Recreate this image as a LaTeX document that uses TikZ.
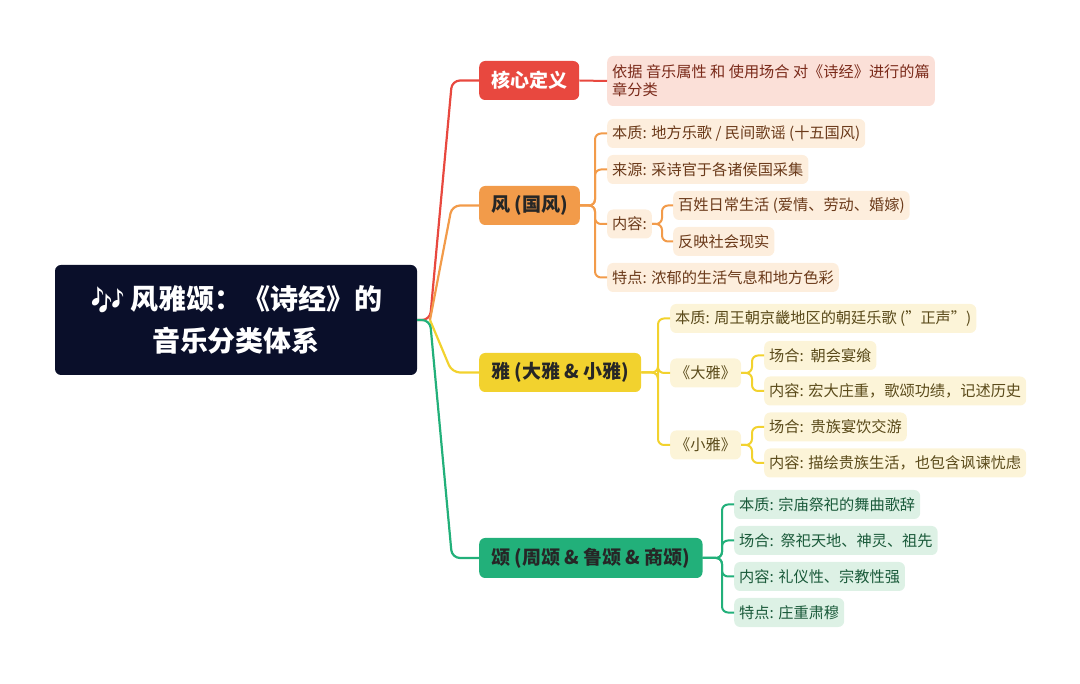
\documentclass[tikz,border=0pt]{standalone}
\usepackage{fontspec}
\setmainfont{Noto Sans CJK SC}
\newfontfamily\emo{Noto Emoji}
\definecolor{rootc}{HTML}{0A0F2A}
\definecolor{redc}{HTML}{E8483F}
\definecolor{orgc}{HTML}{F29B4A}
\definecolor{yelc}{HTML}{F2D22E}
\definecolor{grnc}{HTML}{22B07A}
\definecolor{redl}{HTML}{FBE0D8}
\definecolor{orgl}{HTML}{FDEEDD}
\definecolor{yell}{HTML}{FCF4D8}
\definecolor{grnl}{HTML}{DDF1E5}
\definecolor{redt}{HTML}{7A2A1A}
\definecolor{orgt}{HTML}{6B3A1A}
\definecolor{yelt}{HTML}{5A4A1A}
\definecolor{grnt}{HTML}{1A5A3A}
\tikzset{
 branch/.style={anchor=west,rounded corners=6pt,minimum height=39pt,inner xsep=12pt,font=\fontsize{19}{22}\selectfont\bfseries},
 leaf/.style={anchor=west,rounded corners=6pt,minimum height=29pt,inner xsep=5pt,font=\fontsize{15.2}{18}\selectfont},
 lk/.style={line width=2.2pt,rounded corners=8pt},
 sk/.style={line width=2pt,rounded corners=6pt},
}
\begin{document}
\begin{tikzpicture}[x=1pt,y=-1pt]
\useasboundingbox (0,0) rectangle (1080,684);
\node[fill=rootc,text=white,rounded corners=6pt,minimum width=362pt,minimum height=110pt,align=center,font=\fontsize{28}{42}\selectfont\bfseries] (root) at (236,320) {{\emo 🎶}\,风雅颂：《诗经》的\\音乐分类体系};
% branches
\node[branch,fill=redc,text=white] (def) at (479,80.5) {核心定义};
\node[branch,fill=orgc,text=black!85] (feng) at (479,205.5) {风 (国风)};
\node[branch,fill=yelc,text=black!85] (ya) at (479,372.5) {雅 (大雅 \& 小雅)};
\node[branch,fill=grnc,text=black!85,minimum height=40pt] (song) at (479,558) {颂 (周颂 \& 鲁颂 \& 商颂)};
\coordinate (j) at (430,320);
\draw[redc,lk] (root.east) -- (j) -- (452,80.5) -- (def.west);
\draw[orgc,lk] (j) -- (452,205.5) -- (feng.west);
\draw[yelc,lk] (j) -- (452,372.5) -- (ya.west);
\draw[grnc,lk] (root.east) -- (j) -- (452,558) -- (song.west);
% def
\node[leaf,fill=redl,text=redt,minimum height=50pt,align=left] (d1) at (607,81) {依据 音乐属性 和 使用场合 对《诗经》进行的篇\\章分类};
\draw[redc,sk] (def.east) -- (d1.west);
% feng
\node[leaf,fill=orgl,text=orgt] (f1) at (607,133.5) {本质: 地方乐歌 / 民间歌谣 (十五国风)};
\node[leaf,fill=orgl,text=orgt] (f2) at (607,169.5) {来源: 采诗官于各诸侯国采集};
\node[leaf,fill=orgl,text=orgt] (f3) at (607,224) {内容:};
\node[leaf,fill=orgl,text=orgt] (f4) at (607,277.5) {特点: 浓郁的生活气息和地方色彩};
\node[leaf,fill=orgl,text=orgt] (f31) at (673,205.5) {百姓日常生活 (爱情、劳动、婚嫁)};
\node[leaf,fill=orgl,text=orgt] (f32) at (673,241.5) {反映社会现实};
\foreach \c in {f1,f2,f3,f4}{\draw[orgc,sk] (feng.east) -- (595,205.5) |- (\c.west);}
\foreach \c in {f31,f32}{\draw[orgc,sk] (f3.east) -- (662,224) |- (\c.west);}
% ya
\node[leaf,fill=yell,text=yelt] (y1) at (670,318.5) {本质: 周王朝京畿地区的朝廷乐歌 ("正声")};
\node[leaf,fill=yell,text=yelt] (y2) at (670,373) {《大雅》};
\node[leaf,fill=yell,text=yelt] (y3) at (670,445) {《小雅》};
\node[leaf,fill=yell,text=yelt] (y21) at (764,355.5) {场合:\ \ 朝会宴飨};
\node[leaf,fill=yell,text=yelt] (y22) at (764,391) {内容: 宏大庄重，歌颂功绩，记述历史};
\node[leaf,fill=yell,text=yelt] (y31) at (764,427) {场合:\ \ 贵族宴饮交游};
\node[leaf,fill=yell,text=yelt] (y32) at (764,463) {内容: 描绘贵族生活，也包含讽谏忧虑};
\foreach \c in {y1,y2,y3}{\draw[yelc,sk] (ya.east) -- (658,372.5) |- (\c.west);}
\foreach \c in {y21,y22}{\draw[yelc,sk] (y2.east) -- (752,373) |- (\c.west);}
\foreach \c in {y31,y32}{\draw[yelc,sk] (y3.east) -- (752,445) |- (\c.west);}
% song
\node[leaf,fill=grnl,text=grnt] (s1) at (734,504.5) {本质: 宗庙祭祀的舞曲歌辞};
\node[leaf,fill=grnl,text=grnt] (s2) at (734,540.5) {场合:\ \ 祭祀天地、神灵、祖先};
\node[leaf,fill=grnl,text=grnt] (s3) at (734,576.5) {内容: 礼仪性、宗教性强};
\node[leaf,fill=grnl,text=grnt] (s4) at (734,612.5) {特点: 庄重肃穆};
\foreach \c in {s1,s2,s3,s4}{\draw[grnc,sk] (song.east) -- (722,558) |- (\c.west);}
\end{tikzpicture}
\end{document}
